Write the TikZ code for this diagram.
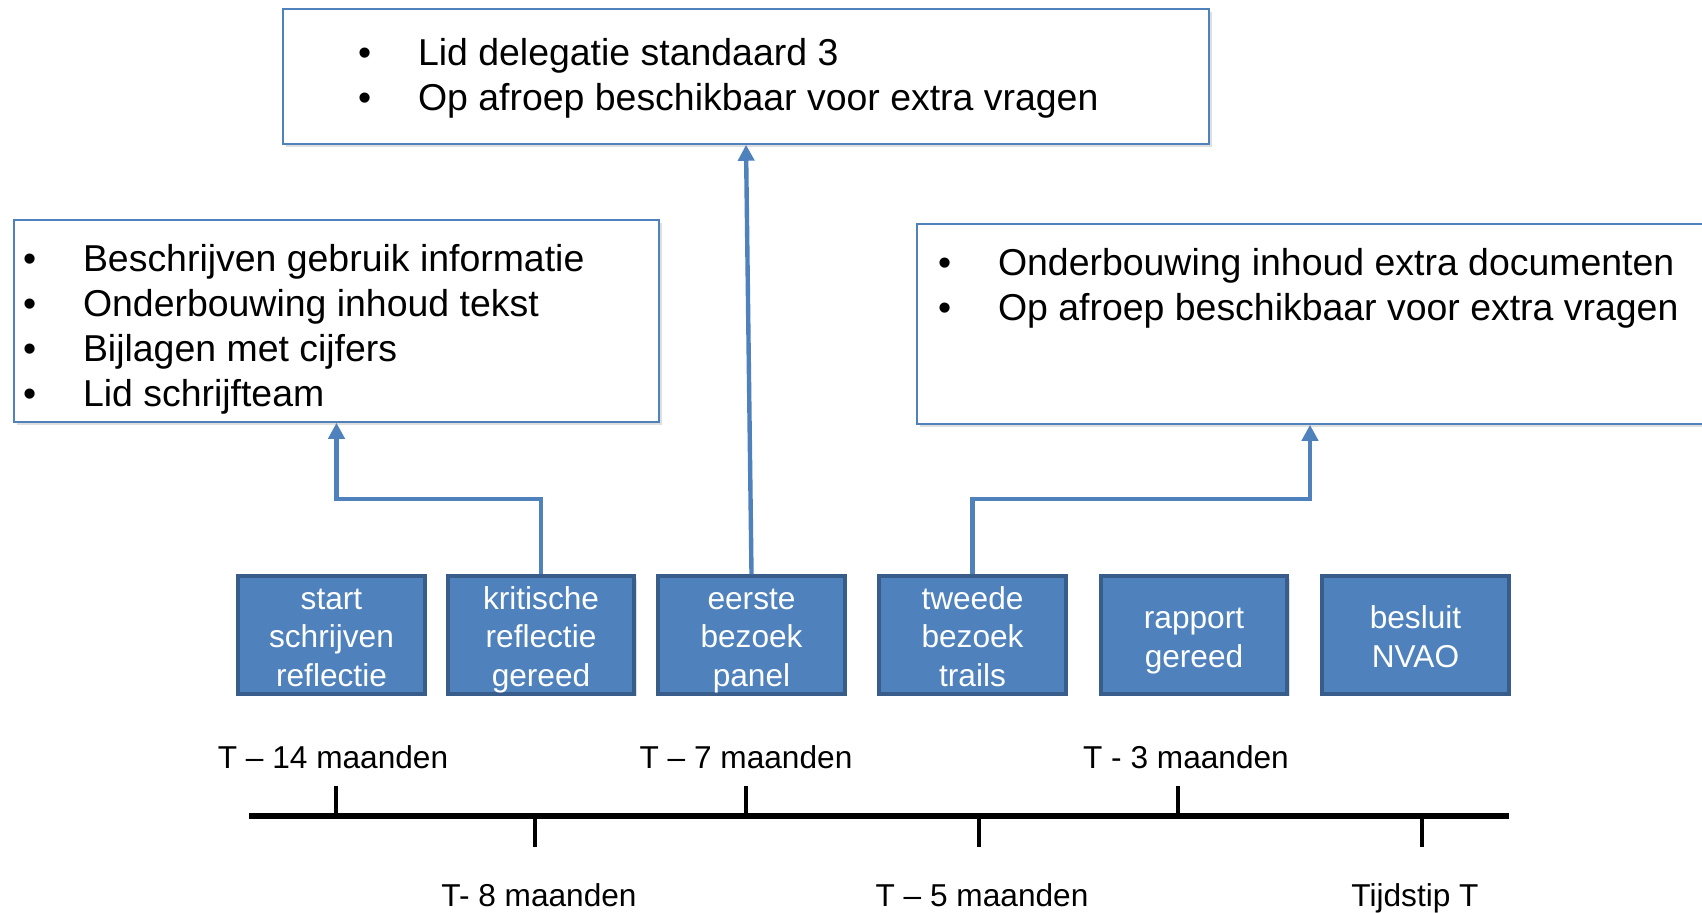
\documentclass[tikz,border=0pt]{standalone}
\usepackage{fontspec}
\setmainfont{Liberation Sans}
\usetikzlibrary{positioning,arrows.meta,shadows}
\definecolor{officeblue}{HTML}{4F81BD}
\definecolor{officeborder}{HTML}{385D8A}
\tikzstyle{mijlpaal} = [draw=officeborder, line width=2.5pt, fill=officeblue, text=white, rectangle, minimum height=2.35cm, minimum width=3.73cm, inner sep=0pt, text height=20pt, text depth=5.5pt, font=\fontsize{18}{21.9}\selectfont, drop shadow={opacity=0.25,shadow xshift=0.05cm,shadow yshift=-0.05cm}]
\tikzstyle{kader} = [draw=officeblue, line width=0.9pt, fill=white, rectangle, inner sep=0pt, drop shadow={opacity=0.25,shadow xshift=0.06cm,shadow yshift=-0.06cm}]
\tikzstyle{lijst} = [inner sep=0pt, anchor=north west, align=left, font=\fontsize{21.3}{25.5}\selectfont]
\tikzstyle{verbinding} = [draw=officeblue, line width=2.5pt, -{Triangle[length=0.32cm,width=0.32cm]}]
\tikzstyle{tijdlijn} = [line width=3.7pt]
\tikzstyle{streep} = [line width=2.5pt]
\tikzstyle{tijd} = [font=\fontsize{18}{21.6}\selectfont, inner sep=0pt, text height=0.72em, text depth=0.21em]
\tikzstyle{punt} = [coordinate]
\newcommand{\opsomming}[1]{\begin{tabular}{@{}p{1.2cm}@{}l@{}}#1\end{tabular}}
\newcommand{\regels}[1]{\begin{tabular}{@{}c@{}}#1\end{tabular}}

\begin{document}
\begin{tikzpicture}[auto, node distance=2cm]
\useasboundingbox (0,0) rectangle (34.04,18.24);
% Nodes
	\node [mijlpaal] (start) at (6.63,5.54) {\regels{start\\schrijven\\reflectie}};
	\node [mijlpaal, right of=start, node distance = 4.19 cm] (kritisch) {\regels{kritische\\reflectie\\gereed}};
	\node [mijlpaal, right of=kritisch, node distance = 4.21 cm] (eerste) {\regels{eerste\\bezoek\\panel}};
	\node [mijlpaal, right of=eerste, node distance = 4.42 cm] (tweede) {\regels{tweede\\bezoek\\trails}};
	\node [mijlpaal, right of=tweede, node distance = 4.43 cm] (rapport) {\regels{rapport\\gereed}};
	\node [mijlpaal, right of=rapport, node distance = 4.43 cm] (besluit) {\regels{besluit\\NVAO}};
	\node [kader, minimum width=18.52cm, minimum height=2.70cm] (boven) at (14.92,16.71) {};
	\node [kader, minimum width=12.90cm, minimum height=4.04cm] (links) at (6.73,11.82) {};
	\node [kader, minimum width=15.86cm, minimum height=4.00cm] (rechts) at (26.27,11.76) {};
	\node [lijst] (bovenlijst) at ([xshift=1.51cm,yshift=-0.52cm]boven.north west) {\opsomming{%
		\textbullet & Lid delegatie standaard 3\\
		\textbullet & Op afroep beschikbaar voor extra vragen}};
	\node [lijst] (linkslijst) at ([xshift=0.19cm,yshift=-0.42cm]links.north west) {\opsomming{%
		\textbullet & Beschrijven gebruik informatie\\
		\textbullet & Onderbouwing inhoud tekst\\
		\textbullet & Bijlagen met cijfers\\
		\textbullet & Lid schrijfteam}};
	\node [lijst] (rechtslijst) at ([xshift=0.43cm,yshift=-0.42cm]rechts.north west) {\opsomming{%
		\textbullet & Onderbouwing inhoud extra documenten\\
		\textbullet & Op afroep beschikbaar voor extra vragen}};
% Timeline
	\node [punt] (begin) at (4.98,1.92) {};
	\node [punt, right of=begin, node distance = 25.2 cm] (eind) {};
	\node [punt] (t14) at (6.72,1.92) {};
	\node [punt, above of=t14, node distance = 0.6 cm] (t14top) {};
	\node [punt] (t8) at (10.70,1.92) {};
	\node [punt, below of=t8, node distance = 0.62 cm] (t8bodem) {};
	\node [punt] (t7) at (14.92,1.92) {};
	\node [punt, above of=t7, node distance = 0.6 cm] (t7top) {};
	\node [punt] (t5) at (19.58,1.92) {};
	\node [punt, below of=t5, node distance = 0.62 cm] (t5bodem) {};
	\node [punt] (t3) at (23.56,1.92) {};
	\node [punt, above of=t3, node distance = 0.6 cm] (t3top) {};
	\node [punt] (t0) at (28.44,1.92) {};
	\node [punt, below of=t0, node distance = 0.62 cm] (t0bodem) {};
% Connections
	\draw [verbinding] (kritisch.north) -- ++(0,1.5) -| (links.south);
	\draw [verbinding] (eerste.north) -- (boven.south);
	\draw [verbinding] (tweede.north) -- ++(0,1.5) -| ([xshift=-0.07cm]rechts.south);
	\draw [tijdlijn] (begin) -- (eind);
	\draw [streep] (t14) -- (t14top);
	\draw [streep] (t8) -- (t8bodem);
	\draw [streep] (t7) -- (t7top);
	\draw [streep] (t5) -- (t5bodem);
	\draw [streep] (t3) -- (t3top);
	\draw [streep] (t0) -- (t0bodem);
% Notations
	\node [tijd, above of=t14top, node distance = 0.43 cm, xshift=-0.06cm] (l14) {T -- 14 maanden};
	\node [tijd, above of=t7top, node distance = 0.43 cm] (l7) {T -- 7 maanden};
	\node [tijd, above of=t3top, node distance = 0.43 cm, xshift=0.16cm] (l3) {T - 3 maanden};
	\node [tijd, below of=t8bodem, node distance = 1.095 cm, xshift=0.08cm] (l8) {T- 8 maanden};
	\node [tijd, below of=t5bodem, node distance = 1.095 cm, xshift=0.06cm] (l5) {T -- 5 maanden};
	\node [tijd, below of=t0bodem, node distance = 1.095 cm, xshift=-0.14cm] (l0) {Tijdstip T};
\end{tikzpicture}
\end{document}
